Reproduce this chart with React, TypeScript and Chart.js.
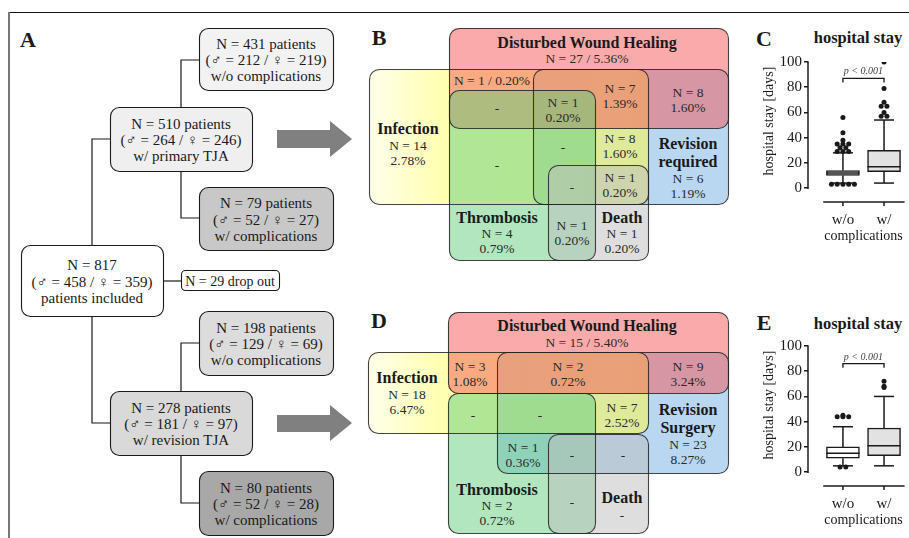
import React, { useEffect, useRef } from 'react';
import { Chart, registerables } from 'chart.js';

Chart.register(...registerables);

const SERIF = "'Liberation Serif', 'DejaVu Serif', serif";
const INK = '#1a1a1a';

// ---------- Panel A: flowchart texts ----------
const flowTotal = ['N = 817', '(♂ = 458 / ♀ = 359)', 'patients included'];
const flowDropOut = 'N = 29 drop out';
const flowPrimary = ['N = 510 patients', '(♂ = 264 / ♀ = 246)', 'w/ primary TJA'];
const flowPrimaryNo = ['N = 431 patients', '(♂ = 212 / ♀ = 219)', 'w/o complications'];
const flowPrimaryYes = ['N = 79 patients', '(♂ = 52 / ♀ = 27)', 'w/ complications'];
const flowRevision = ['N = 278 patients', '(♂ = 181 / ♀ = 97)', 'w/ revision TJA'];
const flowRevisionNo = ['N = 198 patients', '(♂ = 129 / ♀ = 69)', 'w/o complications'];
const flowRevisionYes = ['N = 80 patients', '(♂ = 52 / ♀ = 28)', 'w/ complications'];

// ---------- Panels B / D: Venn texts ----------
const vennBTitles = [['Disturbed Wound Healing'], ['Infection'], ['Revision', 'required'], ['Thrombosis'], ['Death']];
const vennBCells = [
  ['N = 27 / 5.36%'],
  ['N = 1 / 0.20%'],
  ['-'],
  ['N = 1', '0.20%'],
  ['N = 7', '1.39%'],
  ['N = 8', '1.60%'],
  ['N = 14', '2.78%'],
  ['-'],
  ['-'],
  ['N = 8', '1.60%'],
  ['N = 6', '1.19%'],
  ['N = 1', '0.20%'],
  ['-'],
  ['N = 4', '0.79%'],
  ['N = 1', '0.20%'],
  ['N = 1', '0.20%'],
];
const vennDTitles = [['Disturbed Wound Healing'], ['Infection'], ['Revision', 'Surgery'], ['Thrombosis'], ['Death']];
const vennDCells = [
  ['N = 15 / 5.40%'],
  ['N = 3', '1.08%'],
  ['N = 2', '0.72%'],
  ['N = 9', '3.24%'],
  ['N = 18', '6.47%'],
  ['-'],
  ['-'],
  ['N = 7', '2.52%'],
  ['N = 23', '8.27%'],
  ['N = 1', '0.36%'],
  ['-'],
  ['-'],
  ['N = 2', '0.72%'],
  ['-'],
  ['-'],
];

// ---------- Panels C / E: box plots ----------
const panelLetters = ['A', 'B', 'C', 'D', 'E'];
const boxPanelTitle = 'hospital stay';
const boxAxisTitle = 'hospital stay [days]';
const boxCategories = ['w/o', 'w/'];
const boxGroupLabel = 'complications';
const yTickValues = [0, 20, 40, 60, 80, 100];
const pValueLabel = 'p < 0.001';

const cQ1 = [10, 13];
const cMedian = [12, 17];
const cQ3 = [14, 30];
const cWhiskerLow = [4, 4];
const cWhiskerHigh = [28, 54];
const cOutliers = [
  [56, 44, 38, 35, 35, 35, 32, 32, 29, 29, 29, 3, 3, 3, 3, 3],
  [100, 79, 68, 65, 65, 60, 57, 57],
];
const cBracket = 87;

const eQ1 = [11, 13];
const eMedian = [15, 21];
const eQ3 = [20, 35];
const eWhiskerLow = [5, 5];
const eWhiskerHigh = [36, 60];
const eOutliers = [
  [45, 44, 44, 44, 4, 4],
  [72, 68, 67],
];
const eBracket = 86;

type BoxProps = {
  top: number;
  q1: number[];
  med: number[];
  q3: number[];
  lo: number[];
  hi: number[];
  out: number[][];
  bracket: number;
};

function BoxPlot({ top, q1, med, q3, lo, hi, out, bracket }: BoxProps) {
  const ref = useRef<HTMLCanvasElement>(null);
  useEffect(() => {
    const canvas = ref.current;
    if (!canvas) return;
    const points: { x: number; y: number }[] = [];
    out.forEach((list, i) => {
      const counts = new Map<number, number>();
      list.forEach((v) => counts.set(v, (counts.get(v) || 0) + 1));
      const seen = new Map<number, number>();
      list.forEach((v) => {
        const n = counts.get(v) || 1;
        const k = seen.get(v) || 0;
        seen.set(v, k + 1);
        points.push({ x: i + 1 + (k - (n - 1) / 2) * 0.14, y: v });
      });
    });

    const extras = {
      id: 'boxExtras',
      afterDatasetsDraw(chart: any) {
        const { ctx, chartArea, scales } = chart;
        const x = scales.x;
        const y = scales.y;
        ctx.save();
        ctx.strokeStyle = INK;
        ctx.lineWidth = 1.5;
        const line = (x1: number, y1: number, x2: number, y2: number) => {
          ctx.beginPath();
          ctx.moveTo(x1, y1);
          ctx.lineTo(x2, y2);
          ctx.stroke();
        };
        boxCategories.forEach((_, i) => {
          const cx = x.getPixelForValue(i + 1);
          const yHi = y.getPixelForValue(hi[i]);
          const yLo = y.getPixelForValue(lo[i]);
          const yMed = y.getPixelForValue(med[i]);
          line(cx, y.getPixelForValue(q3[i]), cx, yHi);
          line(cx, y.getPixelForValue(q1[i]), cx, yLo);
          line(cx - 10, yHi, cx + 10, yHi);
          line(cx - 10, yLo, cx + 10, yLo);
          line(cx - 16.5, yMed, cx + 16.5, yMed);
        });
        line(chartArea.left, y.getPixelForValue(yTickValues[0]) + 0.75, chartArea.left, y.getPixelForValue(yTickValues[yTickValues.length - 1]) - 0.75);
        const xb = chartArea.bottom;
        line(x.getPixelForValue(0.52), xb, x.getPixelForValue(2.5), xb);
        [1, 2].forEach((v) => line(x.getPixelForValue(v), xb, x.getPixelForValue(v), xb + 4));
        const x1 = x.getPixelForValue(1);
        const x2 = x.getPixelForValue(2);
        const by = y.getPixelForValue(bracket);
        ctx.lineWidth = 1.3;
        ctx.beginPath();
        ctx.moveTo(x1, by + 4);
        ctx.lineTo(x1, by);
        ctx.lineTo(x2, by);
        ctx.lineTo(x2, by + 4);
        ctx.stroke();
        ctx.fillStyle = '#444';
        ctx.font = `italic 10px ${SERIF}`;
        ctx.textAlign = 'center';
        ctx.textBaseline = 'alphabetic';
        ctx.fillText(pValueLabel, (x1 + x2) / 2, by - 4);
        ctx.fillStyle = INK;
        ctx.font = `14px ${SERIF}`;
        ctx.textBaseline = 'middle';
        ctx.fillText(boxGroupLabel, (x1 + x2) / 2, xb + 34);
        ctx.translate(39, y.getPixelForValue(50) - 4);
        ctx.rotate(-Math.PI / 2);
        ctx.fillText(boxAxisTitle, 0, 0);
        ctx.restore();
      },
    };

    const chart = new Chart(canvas, {
      type: 'bar',
      data: {
        datasets: [
          {
            type: 'bar',
            data: boxCategories.map((_, i) => ({ x: i + 1, y: [q1[i], q3[i]] })) as any,
            backgroundColor: ['#ffffff', '#e2e2e2'],
            borderColor: INK,
            borderWidth: 1.5,
            borderSkipped: false,
            barThickness: 33,
          } as any,
          {
            type: 'scatter',
            data: points,
            pointRadius: 2.5,
            pointBackgroundColor: INK,
            pointBorderWidth: 0,
          } as any,
        ],
      },
      options: {
        animation: false,
        responsive: false,
        layout: { padding: { left: 27, top: 42, right: 4, bottom: 0 } },
        plugins: { legend: { display: false }, tooltip: { enabled: false } },
        scales: {
          x: {
            type: 'linear',
            offset: false,
            min: 0.15,
            max: 2.51,
            afterBuildTicks: (s: any) => {
              s.ticks = [{ value: 1 }, { value: 2 }];
            },
            afterFit: (s: any) => {
              s.height = 48;
            },
            ticks: {
              callback: (v: any) => boxCategories[Math.round(Number(v)) - 1] ?? '',
              font: { family: SERIF, size: 15 },
              color: INK,
              padding: 9,
              autoSkip: false,
              maxRotation: 0,
            },
            grid: { display: false, drawTicks: false },
            border: { display: false },
          },
          y: {
            type: 'linear',
            min: -11,
            max: 100,
            afterBuildTicks: (s: any) => {
              s.ticks = yTickValues.map((v) => ({ value: v }));
            },
            afterFit: (s: any) => {
              s.width = 51;
            },
            ticks: { font: { family: SERIF, size: 15 }, color: INK, padding: 2 },
            grid: { display: true, drawOnChartArea: false, drawTicks: true, tickLength: 4, color: INK, lineWidth: 1.5 },
            border: { display: false },
          },
        },
      } as any,
      plugins: [extras],
    });
    return () => chart.destroy();
  }, []);
  return (
    <canvas
      ref={ref}
      width={179}
      height={230}
      style={{ position: 'absolute', left: 730, top, width: 179, height: 230 }}
    />
  );
}

function FlowBox({ x, y, w, h, fill, lines }: { x: number; y: number; w: number; h: number; fill: string; lines: string[] }) {
  const cy = y + h / 2 + 1;
  return (
    <g>
      <rect x={x + 0.5} y={y + 0.5} width={w} height={h} rx={9} fill={fill} stroke={INK} strokeWidth={1.1} />
      {lines.map((s, i) => (
        <text key={i} x={x + w / 2} y={cy + (i - (lines.length - 1) / 2) * 16.4} textAnchor="middle" dominantBaseline="central" fontSize={15} fontFamily={SERIF} fill={INK}>
          {s}
        </text>
      ))}
    </g>
  );
}

type Rect = [number, number, number, number];
// set order: Wound healing, Infection, Revision, Thrombosis, Death
const setFills = ['rgba(245,85,85,0.5)', 'url(#yellowGrad)', 'rgba(115,175,225,0.5)', 'rgba(100,205,125,0.5)', 'rgba(190,190,190,0.5)'];
const drawOrder = [2, 1, 0, 3, 4];

function Venn({ rects, titles, titlePos, cells, cellPos }: { rects: Rect[]; titles: string[][]; titlePos: [number, number][]; cells: string[][]; cellPos: [number, number][] }) {
  return (
    <g>
      {drawOrder.map((i) => {
        const r = rects[i];
        return <rect key={i} x={r[0]} y={r[1]} width={r[2]} height={r[3]} rx={10} fill={setFills[i]} />;
      })}
      {rects.map((r, i) => (
        <rect key={'s' + i} x={r[0] + 0.5} y={r[1] + 0.5} width={r[2]} height={r[3]} rx={10} fill="none" stroke="#222" strokeOpacity={0.85} strokeWidth={1.1} />
      ))}
      {titles.map((t, i) =>
        t.map((s, j) => (
          <text key={'t' + i + j} x={titlePos[i][0]} y={titlePos[i][1] + j * 18.5} textAnchor="middle" dominantBaseline="central" fontSize={16} fontWeight="bold" fontFamily={SERIF} fill={INK}>
            {s}
          </text>
        ))
      )}
      {cells.map((c, i) =>
        c.map((s, j) => (
          <text key={'c' + i + j} x={cellPos[i][0]} y={cellPos[i][1] + j * 15.5} textAnchor="middle" dominantBaseline="central" fontSize={13.5} fontFamily={SERIF} fill="#2a2a2a">
            {s}
          </text>
        ))
      )}
    </g>
  );
}

const letterStyle = { fontSize: 22, fontWeight: 'bold' as const, fontFamily: SERIF, fill: INK };

export default function App() {
  const conn = { stroke: INK, strokeWidth: 1.2, fill: 'none' };
  return (
    <div style={{ position: 'absolute', left: 0, top: 0, width: 909, height: 538, background: '#fff', overflow: 'hidden' }}>
      <svg width={909} height={538} style={{ position: 'absolute', left: 0, top: 0 }}>
        <defs>
          <linearGradient id="yellowGrad" x1="0" y1="0" x2="1" y2="0">
            <stop offset="0" stopColor="rgb(255,255,85)" stopOpacity={0.12} />
            <stop offset="0.25" stopColor="rgb(255,255,85)" stopOpacity={0.45} />
            <stop offset="1" stopColor="rgb(255,250,80)" stopOpacity={0.55} />
          </linearGradient>
        </defs>
        <line x1={8} y1={12.5} x2={909} y2={12.5} stroke="#111" strokeWidth={1.2} />
        <line x1={9} y1={12} x2={9} y2={538} stroke="#777" strokeWidth={2} />

        {/* Panel A */}
        <text x={28} y={39} textAnchor="middle" dominantBaseline="central" {...letterStyle}>{panelLetters[0]}</text>
        <polyline points="110,139 92,139 92,245" {...conn} />
        <polyline points="92,316 92,423 110,423" {...conn} />
        <polyline points="181,107 181,60 199,60" {...conn} />
        <polyline points="181,171 181,218 199,218" {...conn} />
        <polyline points="181,391 181,343 199,343" {...conn} />
        <polyline points="181,455 181,503 199,503" {...conn} />
        <polyline points="163,281 181,281" {...conn} />
        <FlowBox x={199} y={28} w={134} h={62} fill="#f2f2f2" lines={flowPrimaryNo} />
        <FlowBox x={110} y={107} w={142} h={64} fill="#efefef" lines={flowPrimary} />
        <FlowBox x={199} y={187} w={134} h={63} fill="#c8c8c8" lines={flowPrimaryYes} />
        <FlowBox x={21} y={245} w={142} h={71} fill="#ffffff" lines={flowTotal} />
        <rect x={181.5} y={270.5} width={98} height={20} rx={4} fill="#fff" stroke={INK} strokeWidth={1.1} />
        <text x={230} y={281} textAnchor="middle" dominantBaseline="central" fontSize={14} fontFamily={SERIF} fill={INK}>{flowDropOut}</text>
        <FlowBox x={199} y={311} w={134} h={64} fill="#dcdcdc" lines={flowRevisionNo} />
        <FlowBox x={110} y={391} w={142} h={64} fill="#d9d9d9" lines={flowRevision} />
        <FlowBox x={199} y={471} w={134} h={64} fill="#a8a8a8" lines={flowRevisionYes} />
        <polygon points="277,130 330,130 330,121 352,139 330,157 330,148 277,148" fill="#808080" />
        <polygon points="277,415 330,415 330,405 352,423 330,441 330,432 277,432" fill="#808080" />

        {/* Panel B */}
        <text x={379} y={37} textAnchor="middle" dominantBaseline="central" {...letterStyle}>{panelLetters[1]}</text>
        <Venn
          rects={[[449, 28, 279, 100], [369, 69, 279, 135], [533, 69, 195, 135], [449, 90, 146, 170], [548, 165, 100, 95]]}
          titles={vennBTitles}
          titlePos={[[587, 42], [408, 128], [688, 143], [497, 217], [622, 217]]}
          cells={vennBCells}
          cellPos={[
            [587, 58], [492, 80], [497, 108], [563, 102], [620, 88], [688, 92],
            [408, 145], [497, 165], [563, 147], [620, 138], [688, 178], [620, 177],
            [572, 187], [497, 233], [572, 225], [622, 233],
          ]}
        />

        {/* Panel D */}
        <text x={379} y={320} textAnchor="middle" dominantBaseline="central" {...letterStyle}>{panelLetters[3]}</text>
        <Venn
          rects={[[448, 312, 280, 81], [368, 352, 280, 81], [497, 352, 231, 121], [448, 393, 147, 140], [548, 434, 100, 99]]}
          titles={vennDTitles}
          titlePos={[[587, 325], [407, 377], [688, 409], [497, 489], [622, 497]]}
          cells={vennDCells}
          cellPos={[
            [587, 342], [470, 366], [568, 366], [688, 366], [407, 394], [473, 415],
            [540, 415], [622, 407], [688, 444], [523, 447], [572, 455], [623, 455],
            [497, 505], [572, 502], [622, 515],
          ]}
        />

        {/* Panels C / E headings */}
        <text x={764} y={38} textAnchor="middle" dominantBaseline="central" {...letterStyle}>{panelLetters[2]}</text>
        <text x={858} y={37} textAnchor="middle" dominantBaseline="central" fontSize={16.5} fontWeight="bold" fontFamily={SERIF} fill={INK}>{boxPanelTitle}</text>
        <text x={764} y={322} textAnchor="middle" dominantBaseline="central" {...letterStyle}>{panelLetters[4]}</text>
        <text x={858} y={323} textAnchor="middle" dominantBaseline="central" fontSize={16.5} fontWeight="bold" fontFamily={SERIF} fill={INK}>{boxPanelTitle}</text>
      </svg>
      <BoxPlot top={20} q1={cQ1} med={cMedian} q3={cQ3} lo={cWhiskerLow} hi={cWhiskerHigh} out={cOutliers} bracket={cBracket} />
      <BoxPlot top={304} q1={eQ1} med={eMedian} q3={eQ3} lo={eWhiskerLow} hi={eWhiskerHigh} out={eOutliers} bracket={eBracket} />
    </div>
  );
}
